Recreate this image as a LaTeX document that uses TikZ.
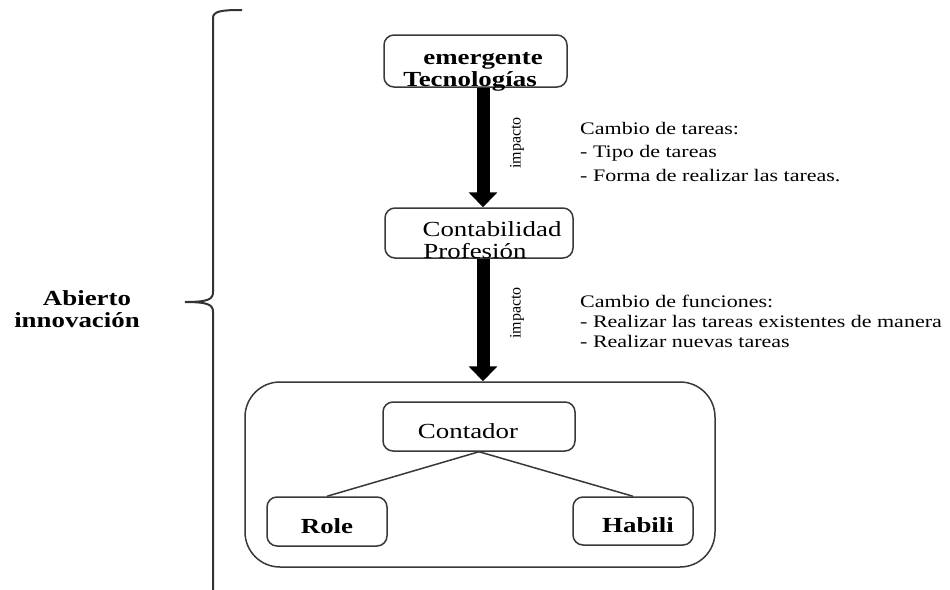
\documentclass[tikz,border=0pt]{standalone}
\usepackage{fontspec}
\setmainfont{Liberation Serif}[FakeStretch=1.25]
\newfontfamily\plainserif{Liberation Serif}
\usetikzlibrary{arrows.meta}

\tikzset{
    caja/.style={draw=black!78, line width=1.5pt, rounded corners=10pt, inner sep=0pt},
    grande/.style={font=\fontsize{21.5}{22}\selectfont},
    gruesa/.style={font=\bfseries\fontsize{21.5}{22}\selectfont},
    nota/.style={align=left, anchor=west, inner sep=0pt},
    flecha/.style={line width=13pt, -{Triangle[width=28pt,length=15pt]}},
    impacto/.style={font=\plainserif\fontsize{16}{16}\selectfont, rotate=90, inner sep=0pt},
    linea/.style={draw=black!78, line width=1.5pt},
    llave/.style={draw=black!80, line width=2pt}
}

\begin{document}
\begin{tikzpicture}[x=1pt, y=-1pt]
    \useasboundingbox (0,0) rectangle (950,589);
    % Brace and its label
    \draw[llave] (242,10) .. controls (222,10) and (213,11) .. (213,18) -- (213,292)
        .. controls (213,299) and (209,302) .. (185,302);
    \draw[llave] (185,302) .. controls (209,302) and (213,305) .. (213,312) -- (213,592);
    \node[gruesa, align=center] (abierto) at (77,309) {\rule{20pt}{0pt}Abierto\\innovación};
    % Top boxes
    \node[caja, gruesa, align=center, minimum width=183pt, minimum height=52pt,
        text height=50pt, text depth=-2pt] (tecno) at (475.5,61)
        {\rule{15pt}{0pt}emergente\\Tecnologías\rule{11pt}{0pt}};
    \node[caja, grande, align=center, minimum width=188pt, minimum height=50pt,
        text height=50pt, text depth=-2pt] (conta) at (479,233)
        {\rule{26pt}{0pt}Contabilidad\\Profesión\rule{8pt}{0pt}};
    % Group box
    \node[caja, rounded corners=35pt, minimum width=470pt, minimum height=185pt] (grupo) at (480,474.5) {};
    \node[caja, grande, minimum width=192pt, minimum height=49pt,
        text height=24pt, text depth=1pt] (contador) at (479,426.5) {Contador\rule{22pt}{0pt}};
    \node[caja, gruesa, minimum width=120pt, minimum height=49pt,
        text height=24pt, text depth=1pt] (role) at (327,521.5) {Role};
    \node[caja, gruesa, minimum width=120pt, minimum height=48pt,
        text height=24pt, text depth=1pt] (habili) at (633,521) {\rule{10pt}{0pt}Habili};
    \draw[linea] (contador.south) -- (role.north);
    \draw[linea] (contador.south) -- (habili.north);
    % Arrows
    \coordinate (eje) at (483,0);
    \draw[flecha] (tecno.south -| eje) -- (conta.north -| eje);
    \draw[flecha] (conta.south -| eje) -- (grupo.north -| eje);
    \node[impacto] (imp1) at (517,143) {impacto};
    \node[impacto] (imp2) at (517,313) {impacto};
    % Notes
    \node[nota, font=\fontsize{17.6}{23.5}\selectfont] (tareas) at (580,152)
        {Cambio de tareas:\\- Tipo de tareas\\- Forma de realizar las tareas.};
    \node[nota, font=\fontsize{17.6}{20}\selectfont] (funciones) at (580,321)
        {Cambio de funciones:\\- Realizar las tareas existentes de manera\\- Realizar nuevas tareas};
\end{tikzpicture}
\end{document}
